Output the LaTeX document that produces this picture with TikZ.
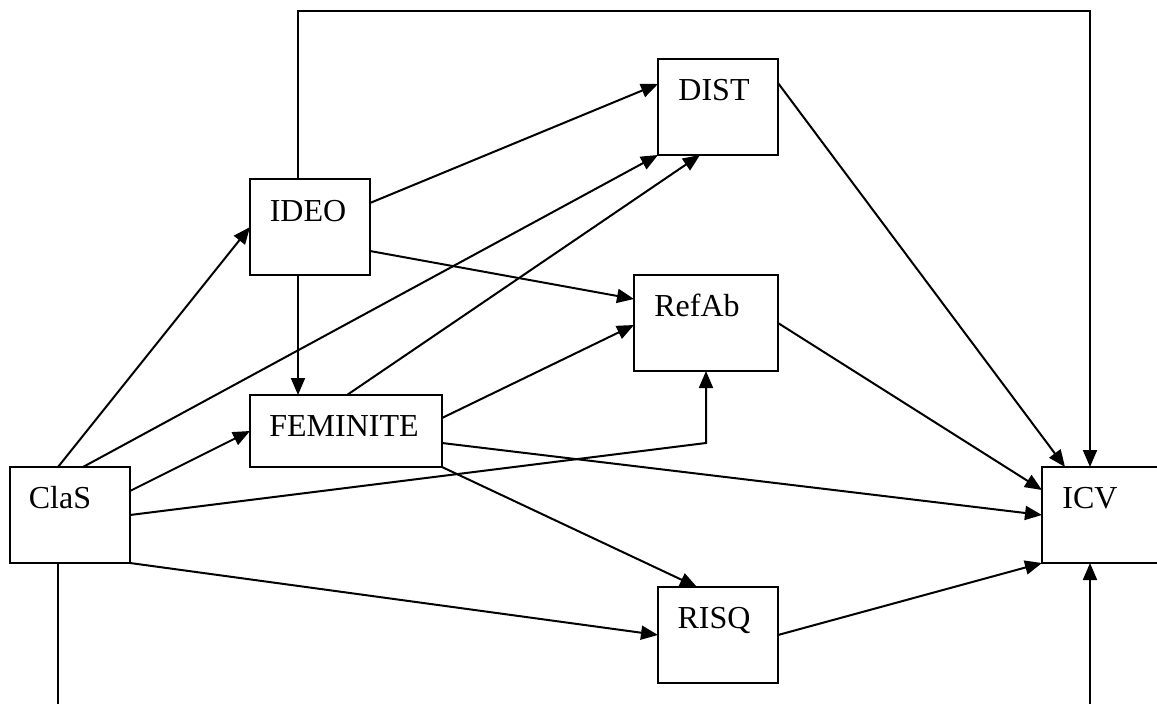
\documentclass[tikz,border=0pt]{standalone}
\usepackage{fontspec}
\setmainfont{Liberation Serif}
\usetikzlibrary{arrows.meta,calc}

\tikzset{
  box/.style={draw, line width=2pt, rectangle, inner sep=0pt, outer sep=0pt},
  lbl/.style={anchor=base, inner sep=0pt, font=\fontsize{32}{38}\selectfont},
  link/.style={line width=2pt, -{Triangle[length=17pt,width=14pt]}},
  plain/.style={line width=2pt}
}

\begin{document}
\begin{tikzpicture}[x=1pt,y=-1pt]
  \useasboundingbox (0,0) rectangle (1157,704);
  \clip (0,0) rectangle (1157,704);

  % boxes
  \node[box, minimum width=120pt, minimum height=96pt] (clas)  at (70,515)  {};
  \node[box, minimum width=120pt, minimum height=96pt] (ideo)  at (310,227) {};
  \node[box, minimum width=192pt, minimum height=72pt] (fem)   at (346,431) {};
  \node[box, minimum width=120pt, minimum height=96pt] (dist)  at (718,107) {};
  \node[box, minimum width=144pt, minimum height=96pt] (refab) at (706,323) {};
  \node[box, minimum width=120pt, minimum height=96pt] (risq)  at (718,635) {};
  \node[box, minimum width=120pt, minimum height=96pt] (icv)   at (1102,515) {};

  % labels
  \node[lbl] (clas-t)  at (60,508)   {ClaS};
  \node[lbl] (ideo-t)  at (308,221)  {IDEO};
  \node[lbl] (fem-t)   at (344,436)  {FEMINITE};
  \node[lbl] (dist-t)  at (714,100)  {DIST};
  \node[lbl] (refab-t) at (697,316)  {RefAb};
  \node[lbl] (risq-t)  at (714,628)  {RISQ};
  \node[lbl] (icv-t)   at (1090,508) {ICV};

  % loose ends running off the page
  \coordinate (clasout) at (58,712);
  \coordinate (icvin)   at (1090,712);
  \coordinate (topline) at (1090,11);

  % ClaS
  \draw[link] ([xshift=48pt]clas.north west) -- (ideo.west);
  \draw[link] ([xshift=73pt]clas.north west) -- (dist.south west);
  \draw[link] ([yshift=-24pt]clas.north east) -- (fem.west);
  \draw[link] (clas.east) -- ([yshift=-72pt]refab.south) -- (refab.south);
  \draw[link] (clas.south east) -- (risq.west);
  \draw[plain] ([xshift=48pt]clas.south west) -- (clasout);

  % IDEO
  \draw[link] ([xshift=48pt]ideo.north west) |- (topline) -- ([xshift=48pt]icv.north west);
  \draw[link] ([yshift=-24pt]ideo.north east) -- ([yshift=-25pt]dist.north west);
  \draw[link] ([yshift=-72pt]ideo.north east) -- ([yshift=-24pt]refab.north west);
  \draw[link] ([xshift=48pt]ideo.south west) -- ([xshift=48pt]fem.north west);

  % FEMINITE
  \draw[link] ([xshift=97pt]fem.north west) -- ([xshift=42pt]dist.south west);
  \draw[link] ([yshift=-23pt]fem.north east) -- ([yshift=-50pt]refab.north west);
  \draw[link] ([yshift=-48pt]fem.north east) -- (icv.west);
  \draw[link] (fem.south east) -- ([xshift=39pt]risq.north west);

  % into ICV
  \draw[link] ([yshift=-24pt]dist.north east) -- ([xshift=23pt]icv.north west);
  \draw[link] (refab.east) -- ([yshift=-23pt]icv.north west);
  \draw[link] (risq.east) -- (icv.south west);
  \draw[link] (icvin) -- ([xshift=48pt]icv.south west);
\end{tikzpicture}
\end{document}
